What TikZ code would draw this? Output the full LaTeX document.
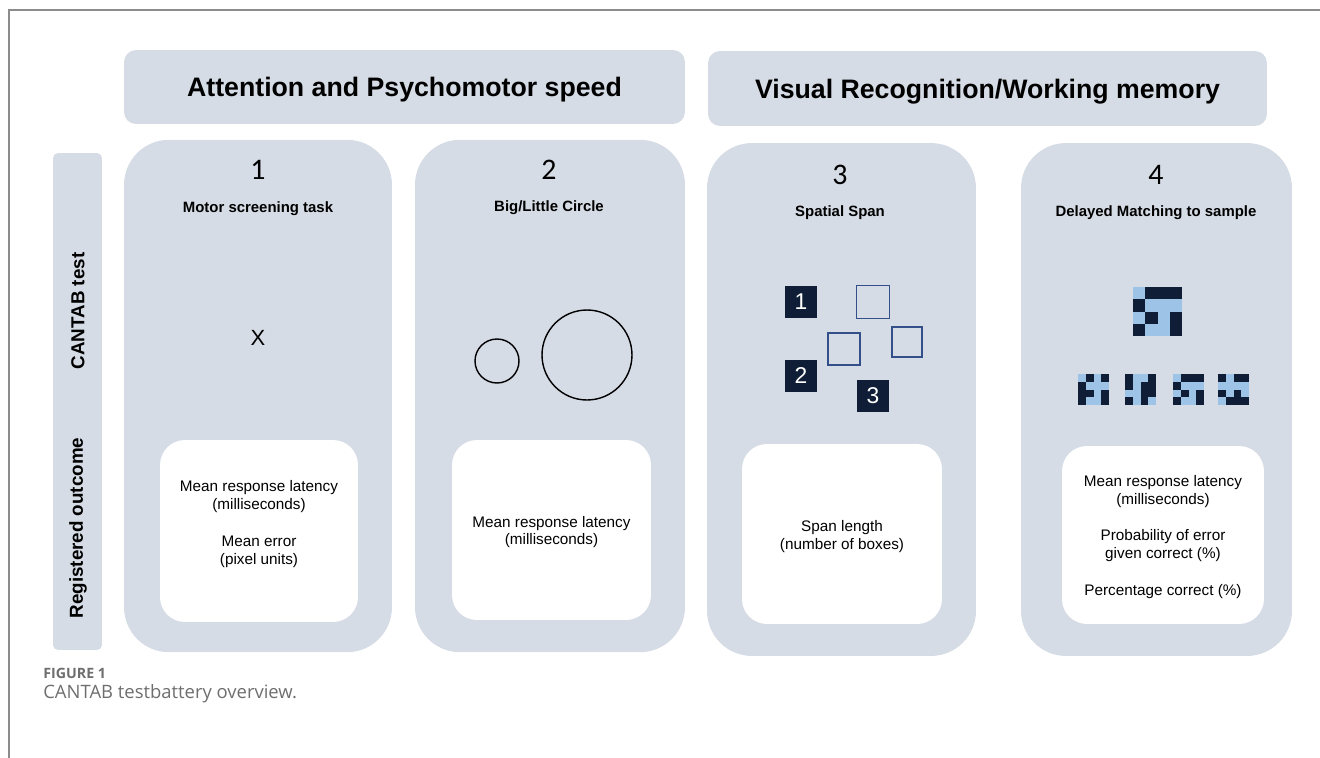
\documentclass[tikz,border=0pt]{standalone}
\usepackage{fontspec}
\setmainfont{Liberation Sans}
\newfontfamily\numfont{Carlito}
\newfontfamily\capfont{Open Sans}
\usetikzlibrary{positioning, calc}
\definecolor{panelgrey}{HTML}{D6DCE5}
\definecolor{navy}{HTML}{0F1E36}
\definecolor{tileblue}{HTML}{9DC3E6}
\definecolor{boxline}{HTML}{34508A}
\definecolor{capgrey}{HTML}{6E6E6E}
\definecolor{framegrey}{HTML}{8C8C8C}
% 4x4 tile: #1 = x, #2 = y (top left), #3 = cell size, #4 = dark cells col/row
\newcommand{\Tile}[4]{%
  \fill[tileblue] (#1,#2) rectangle ++(4*#3,4*#3);
  \foreach \c/\r in {#4}
    \fill[navy] ({#1+\c*#3},{#2+\r*#3}) rectangle ++(#3,#3);
}
\tikzset{
    header/.style={fill=panelgrey, rounded corners=0.24cm, inner sep=0, text depth=0pt,
      font=\bfseries\fontsize{15.2}{18}\selectfont},
    panel/.style={fill=panelgrey, rounded corners=0.9cm, inner sep=0,
      minimum height=10.25cm},
    outbox/.style={fill=white, rounded corners=0.5cm, inner sep=0},
    sidebar/.style={fill=panelgrey, rounded corners=0.1cm, inner sep=0},
    sidetext/.style={rotate=90, font=\bfseries\fontsize{10.7}{13}\selectfont},
    number/.style={font=\numfont\fontsize{17}{20}\selectfont},
    title/.style={font=\bfseries\fontsize{8.5}{10}\selectfont},
    body/.style={align=center, font=\fontsize{8.7}{10.2}\selectfont},
    darkbox/.style={fill=navy, text=white, minimum size=0.64cm, inner sep=0,
      font=\fontsize{13}{15}\selectfont},
    emptybox/.style={draw=boxline, line width=0.8pt, minimum size=0.64cm, inner sep=0},
    ring/.style={circle, draw, line width=0.8pt, inner sep=0},
}

\begin{document}
\begin{tikzpicture}[x=0.02cm, y=-0.02cm]
    \useasboundingbox (0,0) rectangle (1320,758);
    \draw[framegrey, line width=0.85pt] (1320,10) -- (9,10) -- (9,758);

    % domain headers
    \node[header, minimum width=11.22cm, minimum height=1.48cm] (attn) at (404.5,87)
      {Attention and Psychomotor speed};
    \node[header, minimum width=11.18cm, minimum height=1.5cm] (visual) at (987.5,88.5)
      {Visual Recognition/Working memory};

    % row labels
    \node[sidebar, minimum width=0.98cm, minimum height=9.94cm] (side) at (77.5,401.5) {};
    \node[sidetext] (cantab) at (78,311) {CANTAB test};
    \node[sidetext] (registered) at (78,528) {Registered outcome};

    % test panels
    \node[panel, minimum width=5.36cm] (p1) at (258,396) {};
    \node[panel, minimum width=5.4cm] (p2) at (550,396) {};
    \node[panel, minimum width=5.38cm, minimum height=10.26cm] (p3) at (841.5,399.5) {};
    \node[panel, minimum width=5.42cm, minimum height=10.26cm] (p4) at (1156.5,399.5) {};

    \node[number] (n1) at (258,170) {1};
    \node[number] (n2) at (549,170) {2};
    \node[number] (n3) at (840,175) {3};
    \node[number] (n4) at (1156,175) {4};

    \node[title] (t1) at (258,209) {Motor screening task};
    \node[title] (t2) at (549,208) {Big/Little Circle};
    \node[title] (t3) at (840,213) {Spatial Span};
    \node[title] (t4) at (1156,213) {Delayed Matching to sample};

    % motor screening
    \node[font=\fontsize{12.5}{14}\selectfont] (cross) at (258,338) {X};

    % big/little circle
    \node[ring, minimum size=0.88cm] (little) at (497,361) {};
    \node[ring, minimum size=1.8cm] (big) at (587,355) {};

    % spatial span
    \node[darkbox] (s1) at (801,302) {1};
    \node[darkbox] (s2) at (801,376) {2};
    \node[darkbox] (s3) at (873,396) {3};
    \node[emptybox, minimum size=0.66cm] (e1) at (873,302) {};
    \node[emptybox] (e2) at (844,349) {};
    \node[emptybox, minimum size=0.6cm] (e3) at (907,342) {};

    % delayed matching to sample
    \Tile{1133}{287}{12.25}{1/0,2/0,3/0,0/1,1/2,3/2,0/3,3/3}
    \Tile{1078}{374}{7.75}{1/0,3/0,0/1,0/2,1/2,3/2,0/3,3/3}
    \Tile{1125}{374}{7.75}{0/0,3/0,0/1,2/1,3/1,2/2,3/2,0/3,2/3}
    \Tile{1173}{374}{7.75}{1/0,2/0,3/0,0/1,1/2,3/2,0/3,3/3}
    \Tile{1218}{374}{7.75}{0/0,2/0,3/0,0/2,2/2,1/3,2/3,3/3}

    % registered outcomes
    \node[outbox, minimum width=3.96cm, minimum height=3.64cm] (o1) at (259,531) {};
    \node[outbox, minimum width=3.98cm, minimum height=3.6cm] (o2) at (551.5,530) {};
    \node[outbox, minimum width=4cm, minimum height=3.6cm] (o3) at (842,534) {};
    \node[outbox, minimum width=4.04cm, minimum height=3.56cm] (o4) at (1163,535) {};

    \node[body] (r1) at (259,524)
      {Mean response latency\\(milliseconds)\\[10.8pt]Mean error\\(pixel units)};
    \node[body] (r2) at (551.5,532) {Mean response latency\\(milliseconds)};
    \node[body] (r3) at (842,536.5) {Span length\\(number of boxes)};
    \node[body] (r4) at (1163,537)
      {Mean response latency\\(milliseconds)\\[10.8pt]Probability of error\\given correct (\%)\\[10.8pt]Percentage correct (\%)};

    % caption
    \node[anchor=base west, inner sep=0, text=capgrey, font=\capfont\bfseries\fontsize{8.1}{10}\selectfont]
      (fig) at (43,678) {FIGURE 1};
    \node[anchor=base west, inner sep=0, text=capgrey, font=\capfont\fontsize{10.5}{13}\selectfont]
      (caption) at (43,698) {CANTAB testbattery overview.};
\end{tikzpicture}
\end{document}
